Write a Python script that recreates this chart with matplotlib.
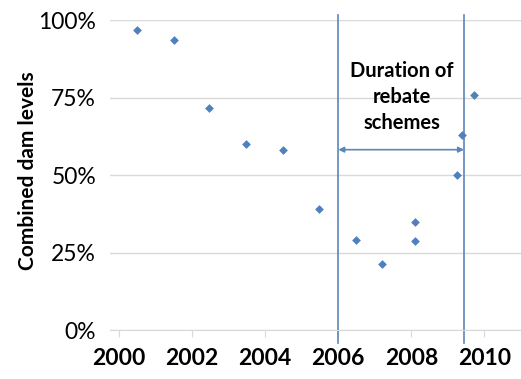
import matplotlib
matplotlib.use("Agg")
import matplotlib.pyplot as plt
from matplotlib.ticker import PercentFormatter

# dam level readings (year, fraction full)
years = [2000.48, 2001.49, 2002.46, 2003.48, 2004.48, 2005.48, 2006.49,
         2007.19, 2008.11, 2008.11, 2009.26, 2009.39, 2009.71]
levels = [0.967, 0.936, 0.718, 0.599, 0.580, 0.391, 0.291,
          0.212, 0.348, 0.286, 0.500, 0.630, 0.759]

rebate_start = 2006.0
rebate_end = 2009.44
x_ticks = [2000, 2002, 2004, 2006, 2008, 2010]
y_ticks = [0, 0.25, 0.5, 0.75, 1.0]
note = "Duration of\nrebate\nschemes"

blue = "#4F81BD"
line_blue = "#5B86B8"

plt.rcParams['font.family'] = ['Lato', 'DejaVu Sans']

fig = plt.figure(figsize=(5.21, 3.79), dpi=100)
ax = fig.add_axes([0.211, 0.129, 0.789, 0.818])

ax.scatter(years, levels, marker='D', s=20, color=blue, zorder=3, linewidths=0)

# rebate period lines, a bit longer than the axis
for xv in (rebate_start, rebate_end):
    ax.plot([xv, xv], [-0.042, 1.016], color=line_blue, lw=1.2,
            clip_on=False, zorder=2)

ax.annotate("", xy=(rebate_start, 0.582), xytext=(rebate_end, 0.582),
            arrowprops=dict(arrowstyle='<|-|>', color=line_blue, lw=1.2,
                            mutation_scale=8, shrinkA=0, shrinkB=0))
ax.text(2007.73, 0.752, note, ha='center', va='center', fontsize=14.5,
        fontweight='bold', linespacing=1.35)

ax.set_xlim(1999.75, 2011.0)
ax.set_ylim(0, 1.0)
ax.set_xticks(x_ticks)
ax.set_yticks(y_ticks)
ax.yaxis.set_major_formatter(PercentFormatter(1.0, decimals=0))

ax.grid(axis='y', color='#D9D9D9', lw=1)
ax.set_axisbelow(True)
for s in ('top', 'right', 'left'):
    ax.spines[s].set_visible(False)
ax.spines['bottom'].set_color('#D9D9D9')

ax.tick_params(axis='x', length=5, color='#D9D9D9', pad=8, labelsize=16.5)
ax.tick_params(axis='y', length=0, pad=10, labelsize=16.5)
for lab in ax.get_xticklabels():
    lab.set_fontweight('bold')

ax.set_ylabel("Combined dam levels", fontsize=15, fontweight='bold')
ax.yaxis.set_label_coords(-0.175, 0.515)

fig.savefig("out.png", dpi=100)
